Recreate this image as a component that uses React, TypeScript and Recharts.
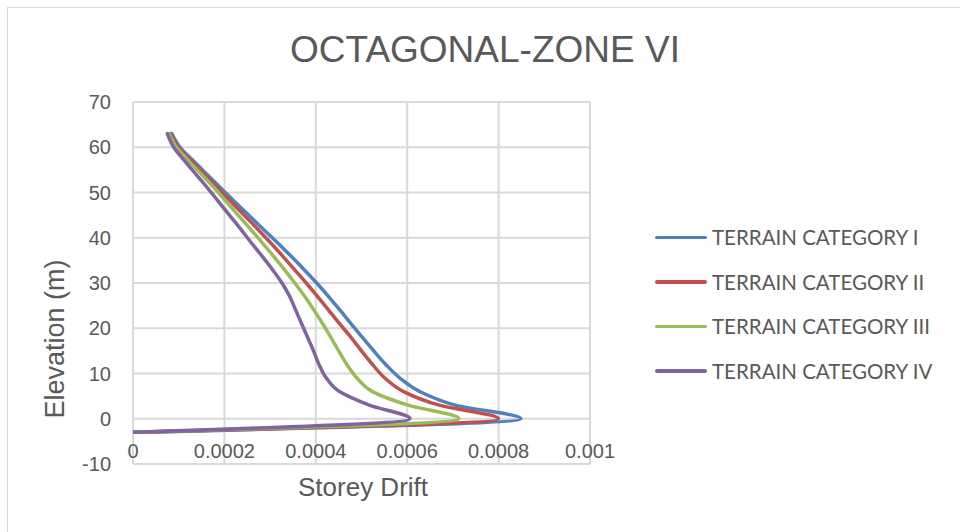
import React from 'react';
import { LineChart, Line, XAxis, YAxis, CartesianGrid, Legend } from 'recharts';

const elevations = [-3, 0, 3, 6, 9, 12, 15, 18, 21, 24, 27, 30, 33, 36, 39, 42, 45, 48, 51, 54, 57, 60, 63];
const catI = [0, 0.000849, 0.000705, 0.000628, 0.000584, 0.000553, 0.000527, 0.000502, 0.000477, 0.000453, 0.000428, 0.000402, 0.000374, 0.000345, 0.000315, 0.000284, 0.000253, 0.000222, 0.000192, 0.000162, 0.000132, 0.000103, 0.000085];
const catII = [0, 0.0008, 0.00067, 0.000592, 0.000551, 0.000524, 0.0005, 0.000477, 0.000452, 0.000428, 0.000404, 0.000379, 0.000353, 0.000327, 0.0003, 0.000272, 0.000243, 0.000214, 0.000185, 0.000156, 0.000127, 0.000099, 0.000082];
const catIII = [0, 0.000713, 0.000602, 0.000524, 0.00049, 0.000468, 0.00045, 0.000433, 0.000415, 0.000396, 0.000376, 0.000354, 0.000331, 0.000307, 0.000282, 0.000256, 0.00023, 0.000204, 0.000178, 0.00015, 0.000122, 0.000095, 0.000079];
const catIV = [0, 0.000606, 0.000517, 0.000452, 0.000423, 0.000407, 0.000395, 0.000382, 0.000369, 0.000356, 0.000343, 0.000326, 0.000305, 0.000282, 0.000258, 0.000235, 0.000211, 0.000187, 0.000163, 0.000138, 0.000113, 0.000089, 0.000075];

const seriesNames = ['TERRAIN CATEGORY I', 'TERRAIN CATEGORY II', 'TERRAIN CATEGORY III', 'TERRAIN CATEGORY IV'];
const seriesColors = ['#4F81BD', '#C0504D', '#9BBB59', '#8064A2'];
const xTicks = [0, 0.0002, 0.0004, 0.0006, 0.0008, 0.001];
const yTicks = [-10, 0, 10, 20, 30, 40, 50, 60, 70];

const table = elevations.map((y, i) => ({ y, s0: catI[i], s1: catII[i], s2: catIII[i], s3: catIV[i] }));

const TEXT = '#595959';
const FONT = '"Liberation Sans", Arial, sans-serif';

const XTick = (props: any) => {
  const { x, y, payload } = props;
  return (
    <text x={x} y={y - 13} textAnchor="middle" dominantBaseline="central" fill={TEXT} fontSize={20} fontFamily={FONT}>
      {String(payload.value)}
    </text>
  );
};

const YTick = (props: any) => {
  const { x, y, payload } = props;
  return (
    <text x={x} y={y} textAnchor="end" dominantBaseline="central" fill={TEXT} fontSize={20} fontFamily={FONT}>
      {String(payload.value)}
    </text>
  );
};

const LegendContent = (props: any) => {
  const { payload } = props;
  return (
    <div>
      {(payload || []).map((p: any, i: number) => (
        <div key={i} style={{ display: 'flex', alignItems: 'center', height: 44.5 }}>
          <div style={{ width: 52, height: 3.5, background: p.color, borderRadius: 2, marginRight: 5 }} />
          <span style={{ fontFamily: 'Lato, "Open Sans", sans-serif', fontSize: 20.5, color: TEXT, whiteSpace: 'nowrap' }}>{p.value}</span>
        </div>
      ))}
    </div>
  );
};

export default function App() {
  return (
    <div style={{ position: 'absolute', left: 0, top: 0, width: 960, height: 532, overflow: 'hidden', background: '#fff' }}>
      <div style={{ position: 'absolute', left: 7, top: 7, width: 1000, height: 600, border: '1px solid #d9d9d9' }} />
      <div style={{ position: 'absolute', left: 0, top: 0 }}>
        <LineChart
          width={960}
          height={532}
          data={table}
          layout="vertical"
          margin={{ top: 102, right: 370, bottom: 38, left: 73 }}
        >
          <CartesianGrid stroke="#d9d9d9" strokeWidth={2} horizontal vertical />
          <XAxis
            type="number"
            domain={[0, 0.001]}
            ticks={xTicks}
            allowDataOverflow
            axisLine={false}
            tickLine={false}
            tickSize={0}
            tickMargin={0}
            height={30}
            interval={0}
            tick={<XTick />}
          />
          <YAxis
            type="number"
            dataKey="y"
            domain={[-10, 70]}
            ticks={yTicks}
            reversed
            allowDataOverflow
            axisLine={false}
            tickLine={false}
            tickSize={0}
            tickMargin={22}
            width={60}
            interval={0}
            tick={<YTick />}
          />
          {seriesNames.map((name, i) => (
            <Line
              key={name}
              name={name}
              dataKey={'s' + i}
              type="monotone"
              stroke={seriesColors[i]}
              strokeWidth={3.5}
              strokeLinecap="round"
              dot={false}
              activeDot={false}
              isAnimationActive={false}
            />
          ))}
          <Legend
            layout="horizontal"
            align="center"
            verticalAlign="middle"
            content={<LegendContent />}
            wrapperStyle={{ position: 'absolute', left: 655, top: 215, width: 300 }}
          />
        </LineChart>
      </div>
      <div style={{ position: 'absolute', left: 0, width: 970, top: 28, textAlign: 'center', fontFamily: FONT, fontSize: 37, color: TEXT, lineHeight: '44px' }}>
        OCTAGONAL-ZONE VI
      </div>
      <div style={{ position: 'absolute', left: 233, width: 260, top: 472, textAlign: 'center', fontFamily: FONT, fontSize: 26, color: TEXT, lineHeight: '30px' }}>
        Storey Drift
      </div>
      <div style={{ position: 'absolute', left: 55 - 130, top: 339 - 15, width: 260, textAlign: 'center', fontFamily: FONT, fontSize: 27, color: TEXT, lineHeight: '30px', transform: 'rotate(-90deg)' }}>
        Elevation (m)
      </div>
    </div>
  );
}
